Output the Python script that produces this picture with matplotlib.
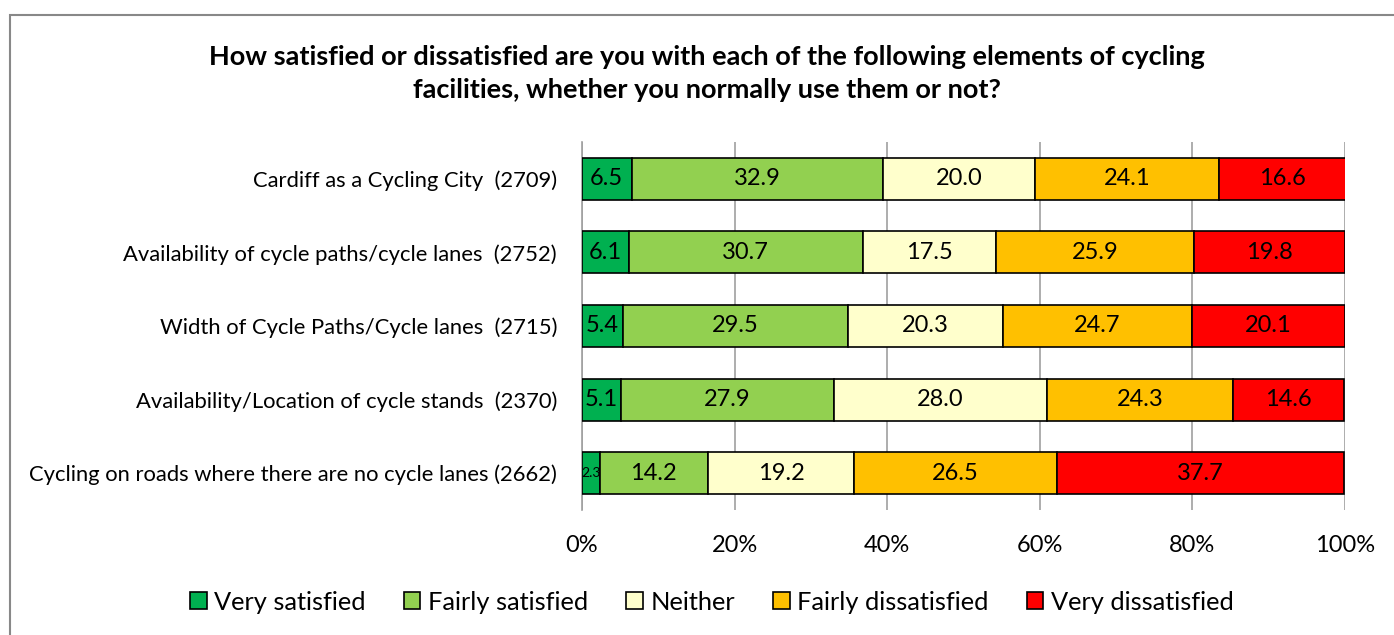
import matplotlib
matplotlib.use("Agg")
import matplotlib.pyplot as plt
from matplotlib.patches import Rectangle
import numpy as np

categories = [
    "Cardiff as a Cycling City  (2709)",
    "Availability of cycle paths/cycle lanes  (2752)",
    "Width of Cycle Paths/Cycle lanes  (2715)",
    "Availability/Location of cycle stands  (2370)",
    "Cycling on roads where there are no cycle lanes (2662)",
]
series_names = ["Very satisfied", "Fairly satisfied", "Neither",
                "Fairly dissatisfied", "Very dissatisfied"]
very_satisfied = [6.5, 6.1, 5.4, 5.1, 2.3]
fairly_satisfied = [32.9, 30.7, 29.5, 27.9, 14.2]
neither = [20.0, 17.5, 20.3, 28.0, 19.2]
fairly_dissatisfied = [24.1, 25.9, 24.7, 24.3, 26.5]
very_dissatisfied = [16.6, 19.8, 20.1, 14.6, 37.7]
colors = ["#00B050", "#92D050", "#FFFFCC", "#FFC000", "#FF0000"]

plt.rcParams['font.family'] = ['Lato', 'DejaVu Sans']

fig = plt.figure(figsize=(13.94, 6.35), dpi=100)
fig.patches.append(Rectangle((10/1394, -0.1), 1.2, 1 - 15/635 + 0.1,
                             transform=fig.transFigure, fill=False,
                             edgecolor="#888888", linewidth=1.5))

ax = fig.add_axes([582/1394, 1 - 510/635, 763/1394, 368/635])
y = np.arange(len(categories))
left = np.zeros(len(categories))
all_series = [very_satisfied, fairly_satisfied, neither, fairly_dissatisfied, very_dissatisfied]
for name, vals, col in zip(series_names, all_series, colors):
    vals = np.array(vals)
    ax.barh(y, vals, left=left, height=0.57, color=col, edgecolor="black",
            linewidth=1.2, label=name, zorder=3)
    for yi, l, v in zip(y, left, vals):
        fs = 10 if v < 4 else 17
        ax.text(l + v / 2, yi, f"{v:.1f}", ha="center", va="center",
                fontsize=fs, color="black", zorder=4)
    left += vals

ax.set_xlim(0, 100)
ax.set_ylim(len(categories) - 0.5, -0.5)
ax.set_yticks(y)
ax.set_yticklabels(categories, fontsize=15.8)
ax.set_xticks(np.arange(0, 101, 20))
ax.set_xticklabels([f"{v}%" for v in range(0, 101, 20)], fontsize=17)
ax.tick_params(axis="y", length=0, pad=18)
ax.tick_params(axis="x", length=0, pad=18)
ax.grid(axis="x", color="#A0A0A0", linewidth=1.2, zorder=0)
for s in ["top", "right", "bottom"]:
    ax.spines[s].set_visible(False)
ax.spines["left"].set_color("#A0A0A0")
ax.spines["left"].set_linewidth(1.2)

fig.text(707/1394, 1 - 57/635, "How satisfied or dissatisfied are you with each of the following elements of cycling",
         ha="center", va="center", fontsize=19.5, fontweight="bold")
fig.text(707/1394, 1 - 90/635, "facilities, whether you normally use them or not?",
         ha="center", va="center", fontsize=19.5, fontweight="bold")

leg = fig.legend(loc="center", bbox_to_anchor=(712/1394, 1 - 602/635), ncol=5,
                 frameon=False, fontsize=18.3, handlelength=0.65, handleheight=0.65,
                 handletextpad=0.3, columnspacing=1.5)
for h in leg.legend_handles:
    h.set_linewidth(1.2)

fig.savefig("out.png", dpi=100)
